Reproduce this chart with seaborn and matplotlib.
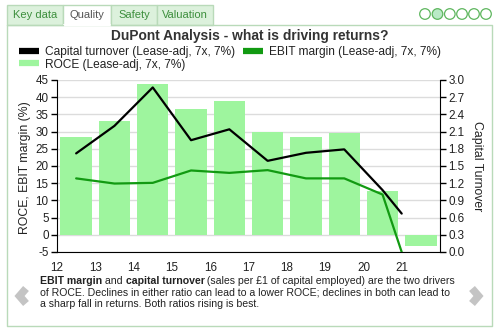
import matplotlib
matplotlib.use("Agg")
import matplotlib.pyplot as plt
import seaborn as sns
import pandas as pd
import numpy as np
from matplotlib.patches import Rectangle, Circle
from matplotlib.lines import Line2D

# ---- data ----
bar_years = [12.5, 13.5, 14.5, 15.5, 16.5, 17.5, 18.5, 19.5, 20.5, 21.5]
roce = [28.4, 33.0, 43.8, 36.7, 38.8, 30.0, 28.3, 29.5, 12.6, -3.2]

line_years = [12.5, 13.5, 14.5, 15.5, 16.5, 17.5, 18.5, 19.5, 20.5, 21.0]
ebit_margin = [16.4, 14.9, 15.1, 18.7, 18.0, 18.8, 16.4, 16.4, 11.7, -5.0]
capital_turnover = [1.72, 2.20, 2.87, 1.95, 2.14, 1.59, 1.73, 1.79, 1.08, 0.67]

x_ticks = [12, 13, 14, 15, 16, 17, 18, 19, 20, 21]
left_ticks = [-5, 0, 5, 10, 15, 20, 25, 30, 35, 40, 45]
right_ticks = [0.0, 0.3, 0.6, 0.9, 1.2, 1.5, 1.8, 2.1, 2.4, 2.7, 3.0]

tabs = ["Key data", "Quality", "Safety", "Valuation"]
title = "DuPont Analysis - what is driving returns?"
label_turnover = "Capital turnover (Lease-adj, 7x, 7%)"
label_margin = "EBIT margin (Lease-adj, 7x, 7%)"
label_roce = "ROCE (Lease-adj, 7x, 7%)"
caption = [
    [("EBIT margin", True), (" and ", False), ("capital turnover", True),
     (" (sales per £1 of capital employed) are the two drivers", False)],
    [("of ROCE. Declines in either ratio can lead to a lower ROCE; declines in both can lead to", False)],
    [("a sharp fall in returns. Both ratios rising is best.", False)],
]

# ---- style ----
sns.set_style("white")
plt.rcParams["font.family"] = ["Liberation Sans", "DejaVu Sans"]

BAR_GREEN = "#9ef59e"
LINE_GREEN = "#129a12"
TAB_GREEN = "#3d8f3d"
BORDER = "#b9dab9"
TEXT = "#222222"

W, H = 500, 334
fig = plt.figure(figsize=(W / 100, H / 100), dpi=100)
fig.patch.set_facecolor("white")

# pixel-coordinate canvas for the widget frame
bg = fig.add_axes([0, 0, 1, 1], zorder=-1)
bg.set_xlim(0, W)
bg.set_ylim(H, 0)
bg.axis("off")

# tabs
tab_edges = [7, 63, 111, 157, 213]
for i, name in enumerate(tabs):
    x0, x1 = tab_edges[i], tab_edges[i + 1]
    active = name == "Quality"
    bg.add_patch(Rectangle((x0, 5), x1 - x0, 20,
                           facecolor="white" if active else "#dcf1dc",
                           edgecolor=BORDER, lw=1))
    bg.text((x0 + x1) / 2, 15.5, name, ha="center", va="center", fontsize=8,
            color="#555555" if active else TAB_GREEN)
# cover the bottom border of the active tab
bg.plot([63.6, 110.4], [25, 25], color="white", lw=1.6)

# panel border
bg.plot([7, 7, 492, 492, 111], [25, 326, 326, 25, 25], color=BORDER, lw=1)
bg.plot([7, 63], [25, 25], color=BORDER, lw=1)

# page dots
for i, cx in enumerate([425, 437.5, 449.8, 462, 474, 486]):
    bg.add_patch(Circle((cx, 14), 5.3, facecolor="#b9eac6" if i == 1 else "white",
                        edgecolor="#5db65d", lw=0.9))

# navigation chevrons
bg.plot([26, 19.5, 26], [288.5, 296, 303.5], color="#c4c4c4", lw=5.5,
        solid_joinstyle="miter", solid_capstyle="butt")
bg.plot([472, 478.5, 472], [288.5, 296, 303.5], color="#c4c4c4", lw=5.5,
        solid_joinstyle="miter", solid_capstyle="butt")

# title
fig.text(250 / W, 1 - 36 / H, title, ha="center", va="center", fontsize=9.9,
         fontweight="bold", color="#333333")

# caption with bold runs
for li, parts in enumerate(caption):
    y = 286 + li * 11.3
    prev = None
    for txt, bold in parts:
        kw = dict(fontsize=7.6, color=TEXT, fontweight="bold" if bold else "normal")
        if prev is None:
            prev = bg.text(40, y, txt, ha="left", va="bottom", **kw)
        else:
            prev = bg.annotate(txt, xy=(1, 0), xycoords=prev, ha="left", va="bottom", **kw)

# ---- chart ----
ax = fig.add_axes([57 / W, 1 - 252 / H, (440 - 57) / W, (252 - 80) / H])
ax.set_facecolor("none")
ax2 = ax.twinx()

df_bar = pd.DataFrame({"year": bar_years, "roce": roce})
sns.barplot(data=df_bar, x="year", y="roce", native_scale=True, width=0.82,
            color=BAR_GREEN, saturation=1, errorbar=None, ax=ax, zorder=2,
            linewidth=0, edgecolor="none")

df_line = pd.DataFrame({"year": line_years, "margin": ebit_margin,
                        "turnover": capital_turnover})
sns.lineplot(data=df_line, x="year", y="margin", color=LINE_GREEN, lw=1.6,
             ax=ax, zorder=3)
sns.lineplot(data=df_line, x="year", y="turnover", color="black", lw=1.6,
             ax=ax2, zorder=3)

ax.set_xlim(12, 22)
ax.set_ylim(-5, 45)
ax2.set_ylim(0, 3)
ax.set_xticks(x_ticks)
ax.set_xticklabels([str(t) for t in x_ticks])
ax.set_yticks(left_ticks)
ax.set_yticklabels([str(t) for t in left_ticks])
ax2.set_yticks(right_ticks)
ax2.set_yticklabels([f"{t:.1f}" for t in right_ticks])
ax.set_xlabel("")
ax.set_ylabel("")
ax2.set_ylabel("")

ax.set_axisbelow(True)
ax.yaxis.grid(True, color="#dcdcdc", lw=1)
ax.xaxis.grid(False)

for a in (ax, ax2):
    a.spines["top"].set_visible(False)
    a.tick_params(colors="black", labelcolor=TEXT, labelsize=8.4, direction="out",
                  length=4.5, width=1, pad=1.5)
ax.spines["right"].set_visible(False)
ax2.spines["left"].set_visible(False)
ax2.spines["bottom"].set_visible(False)
ax2.spines["right"].set_color("black")
ax.spines["left"].set_color("black")
ax.spines["bottom"].set_color("black")
ax.tick_params(axis="x", pad=3)

fig.text(25 / W, 1 - 168 / H, "ROCE, EBIT margin (%)", rotation=90, ha="center",
         va="center", fontsize=8.8, color=TEXT)
fig.text(477 / W, 1 - 166 / H, "Capital Turnover", rotation=270, ha="center",
         va="center", fontsize=8.8, color=TEXT)

# legend
handles = [Line2D([], [], color="black", lw=4.5, solid_capstyle="butt"),
           Line2D([], [], color=BAR_GREEN, lw=4.5, solid_capstyle="butt"),
           Line2D([], [], color=LINE_GREEN, lw=4.5, solid_capstyle="butt")]
labels = [label_turnover, label_roce, label_margin]
leg = fig.legend(handles, labels, loc="upper left", bbox_to_anchor=(19 / W, 1 - 46 / H),
                 ncol=2, frameon=False, fontsize=8.6, handlelength=1.7,
                 handletextpad=0.45, columnspacing=0.7, borderaxespad=0,
                 borderpad=0, labelspacing=0.05)
for t in leg.get_texts():
    t.set_color(TEXT)

fig.savefig("out.png", dpi=100)
